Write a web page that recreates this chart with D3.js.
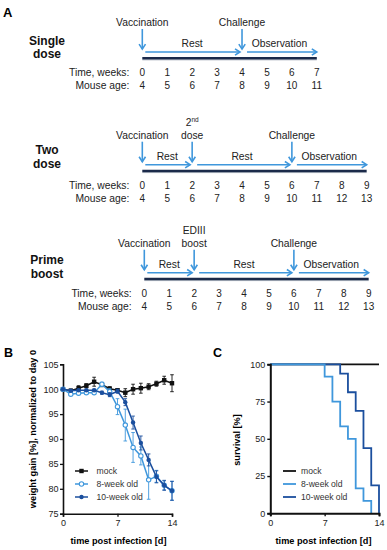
<!DOCTYPE html>
<html><head><meta charset="utf-8">
<script src="https://cdn.jsdelivr.net/npm/d3@7/dist/d3.min.js"></script>
<style>
body{margin:0;background:#fff;}
svg{display:block;font-family:"Liberation Sans",Arial,sans-serif;}
</style></head>
<body><svg id="c" width="387" height="550"></svg>
<script>
// ---------- Panel A data ----------
const protocolNames = [["Single","dose"],["Two","dose"],["Prime","boost"]];
const weeksSingle = [0,1,2,3,4,5,6,7];
const agesSingle  = [4,5,6,7,8,9,10,11];
const weeksTwo    = [0,1,2,3,4,5,6,7,8,9];
const agesTwo     = [4,5,6,7,8,9,10,11,12,13];
const weeksPrime  = [0,1,2,3,4,5,6,7,8,9];
const agesPrime   = [4,5,6,7,8,9,10,11,12,13];
const eventsSingle = [{label:["Vaccination"],week:0},{label:["Challenge"],week:4}];
const eventsTwo    = [{label:["Vaccination"],week:0},{label:["2|nd","dose"],week:2},{label:["Challenge"],week:6}];
const eventsPrime  = [{label:["Vaccination"],week:0},{label:["EDIII","boost"],week:2},{label:["Challenge"],week:6}];
const phasesSingle = [{label:"Rest",from:0,to:4},{label:"Observation",from:4,to:7}];
const phasesTwo    = [{label:"Rest",from:0,to:2},{label:"Rest",from:2,to:6},{label:"Observation",from:6,to:9}];
const phasesPrime  = [{label:"Rest",from:0,to:2},{label:"Rest",from:2,to:6},{label:"Observation",from:6,to:9}];

// ---------- Panel B data ----------
const days = [0,1,2,3,4,5,6,7,8,9,10,11,12,13,14];
const mockWeight   = [100,99.7,100.2,100.7,101.5,100.9,100.1,99.8,99.3,100.0,100.2,100.5,101.1,101.8,101.2];
const mockErr      = [0,0.3,0.5,0.4,0.9,0.4,0.4,0.3,0.8,1.0,1.0,0.6,0.5,0.8,1.7];
const wk8Weight    = [100,99.0,99.2,99.3,99.3,101.0,99.5,96.5,92.8,88.3,86.6,81.8,82.5,80.7,79.6];
const wk8Err       = [0,0.2,0.3,0.3,0.3,0.4,0.6,1.6,3.2,3.0,1.8,3.9,1.2,0.9,1.9];
const wk10Weight   = [100,99.7,99.8,99.8,99.8,99.3,98.9,99.6,97.4,93.3,89.2,85.8,82.4,80.7,79.6];
const wk10Err      = [0,0.2,0.2,0.2,0.2,0.3,0.4,0.4,0.7,1.3,1.4,1.2,1.2,1.0,1.9];
const weightTicks  = [75,80,85,90,95,100,105];
const dayTicks     = [0,7,14];
const seriesNames  = ["mock","8-week old","10-week old"];

// ---------- Panel C data ----------
const mockSurvT = [0,14];
const mockSurv  = [100,100];
const wk8SurvT  = [0,7,8,9,10,11,12,13];
const wk8Surv   = [100,91.7,75,58.3,50,16.7,8.3,0];
const wk10SurvT = [0,9,10,11,12,13,14];
const wk10Surv  = [100,93.75,81.25,68.75,43.75,18.75,0];
const survTicks = [0,25,50,75,100];

// ---------- styles ----------
const LB = "#3f97dc", DB = "#1b4f9e", NAVY = "#1b2a4a";
const svg = d3.select("#c");

// ---------- Panel A ----------
svg.append("text").attr("x",3).attr("y",16.7).attr("font-size",13).attr("font-weight","bold").text("A");

const layoutA = [
  {weeks:weeksSingle, ages:agesSingle, events:eventsSingle, phases:phasesSingle, x0:142.3, base:58.3, nameY:[40.7,53.3], labelRight:129.3},
  {weeks:weeksTwo, ages:agesTwo, events:eventsTwo, phases:phasesTwo, x0:142.3, base:171, nameY:[149.3,163.3], labelRight:129.3},
  {weeks:weeksPrime, ages:agesPrime, events:eventsPrime, phases:phasesPrime, x0:144.3, base:279, nameY:[259.3,273.3], labelRight:131.7}
];
const fs = 10.3;
layoutA.forEach((L,i)=>{
  const g = svg.append("g");
  const x = d3.scaleLinear().domain([0,1]).range([L.x0, L.x0+24.93]);
  const last = d3.max(L.weeks);
  // protocol name
  protocolNames[i].forEach((t,j)=>{
    g.append("text").attr("x",47).attr("y",L.nameY[j]).attr("dy","0.35em").attr("text-anchor","middle")
      .attr("font-size",12).attr("font-weight","bold").attr("fill","#111").text(t);
  });
  // baseline
  g.append("line").attr("x1",x(0)).attr("x2",x(last)).attr("y1",L.base+1.6).attr("y2",L.base+1.6).attr("stroke","#b8bec8").attr("stroke-width",1);
  g.append("line").attr("x1",x(0)).attr("x2",x(last)).attr("y1",L.base).attr("y2",L.base).attr("stroke",NAVY).attr("stroke-width",2.4);
  // rows
  const rowY = [L.base+14.5, L.base+27];
  [["Time, weeks:",L.weeks],["Mouse age:",L.ages]].forEach(([lab,vals],r)=>{
    g.append("text").attr("x",L.labelRight).attr("y",rowY[r]).attr("dy","0.35em").attr("text-anchor","end")
      .attr("font-size",fs).attr("fill","#222").text(lab);
    g.selectAll(null).data(vals).enter().append("text")
      .attr("x",(d,k)=>x(L.weeks[k])).attr("y",rowY[r]).attr("dy","0.35em").attr("text-anchor","middle")
      .attr("font-size",fs-0.3).attr("fill","#222").text(d=>d);
  });
  // horizontal arrows
  const ay = L.base-6.3;
  L.phases.forEach((p,k)=>{
    const xs = x(p.from)+ (k===0?3:5);
    const xe = (p.to===last)? x(p.to) : x(p.to)-2;
    g.append("line").attr("x1",xs).attr("x2",xe).attr("y1",ay).attr("y2",ay).attr("stroke",LB).attr("stroke-width",1.6);
    g.append("path").attr("d",`M${xe-5},${ay-3.2}L${xe},${ay}L${xe-5},${ay+3.2}`).attr("fill","none").attr("stroke",LB).attr("stroke-width",1.6);
    g.append("text").attr("x",(x(p.from)+x(p.to))/2).attr("y",L.base-15).attr("dy","0.35em").attr("text-anchor","middle")
      .attr("font-size",fs).attr("fill","#222").text(p.label);
  });
  // events
  L.events.forEach(e=>{
    const ex = x(e.week);
    const y1 = L.base-29.3, y2 = L.base-9.2;
    g.append("line").attr("x1",ex).attr("x2",ex).attr("y1",y1).attr("y2",y2).attr("stroke",LB).attr("stroke-width",1.6);
    g.append("path").attr("d",`M${ex-3.2},${y2-5}L${ex},${y2}L${ex+3.2},${y2-5}`).attr("fill","none").attr("stroke",LB).attr("stroke-width",1.6);
    const n = e.label.length;
    e.label.forEach((t,j)=>{
      const ty = L.base-35.8 - (n-1-j)*13.2;
      const te = g.append("text").attr("x",ex).attr("y",ty).attr("dy","0.35em").attr("text-anchor","middle")
        .attr("font-size",fs).attr("fill","#222");
      if(t.includes("|")){
        const [a,b] = t.split("|");
        te.append("tspan").text(a);
        te.append("tspan").attr("font-size",6.5).attr("dy","-0.55em").text(b);
      } else te.text(t);
    });
  });
});

// ---------- Panel B ----------
svg.append("text").attr("x",4).attr("y",357.3).attr("font-size",12.5).attr("font-weight","bold").text("B");
const xB = d3.scaleLinear().domain([0,14]).range([63,172]);
const yB = d3.scaleLinear().domain([75,105]).range([513.7,364.3]);
const gB = svg.append("g");
const axL = gB.append("g").attr("transform",`translate(${xB(0)},0)`)
  .call(d3.axisLeft(yB).tickValues(weightTicks).tickSize(3).tickPadding(1.5));
const axBt = gB.append("g").attr("transform",`translate(0,${yB(75)})`)
  .call(d3.axisBottom(xB).tickValues(dayTicks).tickSize(3).tickPadding(3));
[axL,axBt].forEach(a=>{
  a.select(".domain").attr("stroke","#111").attr("stroke-width",1.6);
  a.selectAll(".tick line").attr("stroke","#111").attr("stroke-width",1.3);
  a.selectAll("text").attr("font-size",9).attr("fill","#222").attr("font-family","Liberation Sans, Arial");
});
gB.append("text").attr("x",118.5).attr("y",541).attr("dy","0.35em").attr("text-anchor","middle")
  .attr("font-size",9.2).attr("font-weight","bold").text("time post infection [d]");
gB.append("text").attr("transform","translate(33,429) rotate(-90)").attr("dy","0.35em").attr("text-anchor","middle")
  .attr("font-size",9.2).attr("font-weight","bold").text("weight gain [%], normalized to day 0");

const seriesB = [
  {vals:mockWeight, err:mockErr, color:"#111", marker:"square"},
  {vals:wk8Weight, err:wk8Err, color:LB, marker:"open"},
  {vals:wk10Weight, err:wk10Err, color:DB, marker:"dot"}
];
const lineB = d3.line().x((d,i)=>xB(days[i])).y(d=>yB(d));
function drawMarker(g,type,color,cx,cy){
  if(type==="square") g.append("rect").attr("x",cx-2.2).attr("y",cy-2.2).attr("width",4.4).attr("height",4.4).attr("fill",color);
  else if(type==="open") g.append("circle").attr("cx",cx).attr("cy",cy).attr("r",2.2).attr("fill","#fff").attr("stroke",color).attr("stroke-width",1.1);
  else g.append("circle").attr("cx",cx).attr("cy",cy).attr("r",2.2).attr("fill",color);
}
seriesB.forEach(s=>{
  const g = gB.append("g");
  s.vals.forEach((v,i)=>{
    if(s.err[i]<=0) return;
    const cx = xB(days[i]);
    g.append("line").attr("x1",cx).attr("x2",cx).attr("y1",yB(v-s.err[i])).attr("y2",yB(v+s.err[i])).attr("stroke",s.color).attr("stroke-width",0.9);
    [v-s.err[i],v+s.err[i]].forEach(e=>g.append("line").attr("x1",cx-1.8).attr("x2",cx+1.8).attr("y1",yB(e)).attr("y2",yB(e)).attr("stroke",s.color).attr("stroke-width",0.9));
  });
  g.append("path").attr("d",lineB(s.vals)).attr("fill","none").attr("stroke",s.color).attr("stroke-width",1.5);
  s.vals.forEach((v,i)=>drawMarker(g,s.marker,s.color,xB(days[i]),yB(v)));
});
// legend B
seriesNames.forEach((n,i)=>{
  const ly = 471+i*13;
  gB.append("line").attr("x1",75).attr("x2",88).attr("y1",ly).attr("y2",ly).attr("stroke",seriesB[i].color).attr("stroke-width",1.5);
  drawMarker(gB,seriesB[i].marker,seriesB[i].color,81.5,ly);
  gB.append("text").attr("x",96.5).attr("y",ly).attr("dy","0.35em").attr("font-size",8.6).attr("fill","#333").text(n);
});

// ---------- Panel C ----------
svg.append("text").attr("x",213).attr("y",357.3).attr("font-size",12.5).attr("font-weight","bold").text("C");
const xC = d3.scaleLinear().domain([0,14]).range([270.3,379]);
const yC = d3.scaleLinear().domain([0,100]).range([513.3,364.3]);
const gC = svg.append("g");
const seriesC = [
  {t:mockSurvT, v:mockSurv, color:"#111"},
  {t:wk10SurvT, v:wk10Surv, color:DB},
  {t:wk8SurvT, v:wk8Surv, color:LB}
];
const stepC = d3.line().curve(d3.curveStepAfter);
seriesC.forEach(s=>{
  gC.append("path").attr("d",stepC(s.t.map((t,i)=>[xC(t),yC(s.v[i])]))).attr("fill","none")
    .attr("stroke",s.color).attr("stroke-width",1.8);
});
const axCL = gC.append("g").attr("transform",`translate(${xC(0)},0)`)
  .call(d3.axisLeft(yC).tickValues(survTicks).tickSize(3).tickPadding(2));
const axCB = gC.append("g").attr("transform",`translate(0,${yC(0)})`)
  .call(d3.axisBottom(xC).tickValues(dayTicks).tickSize(3).tickPadding(3));
[axCL,axCB].forEach(a=>{
  a.select(".domain").attr("stroke","#111").attr("stroke-width",2);
  a.selectAll(".tick line").attr("stroke","#111").attr("stroke-width",1.4);
  a.selectAll("text").attr("font-size",9).attr("fill","#222").attr("font-family","Liberation Sans, Arial");
});
gC.append("text").attr("x",323.5).attr("y",541).attr("dy","0.35em").attr("text-anchor","middle")
  .attr("font-size",9.2).attr("font-weight","bold").text("time post infection [d]");
gC.append("text").attr("transform","translate(236.7,440) rotate(-90)").attr("dy","0.35em").attr("text-anchor","middle")
  .attr("font-size",9.2).attr("font-weight","bold").text("survival [%]");
const legC = [ "#111", LB, DB ];
seriesNames.forEach((n,i)=>{
  const ly = 471+i*13;
  gC.append("line").attr("x1",283).attr("x2",296).attr("y1",ly).attr("y2",ly).attr("stroke",legC[i]).attr("stroke-width",1.8);
  gC.append("text").attr("x",301).attr("y",ly).attr("dy","0.35em").attr("font-size",8.6).attr("fill","#333").text(n);
});
</script></body></html>
